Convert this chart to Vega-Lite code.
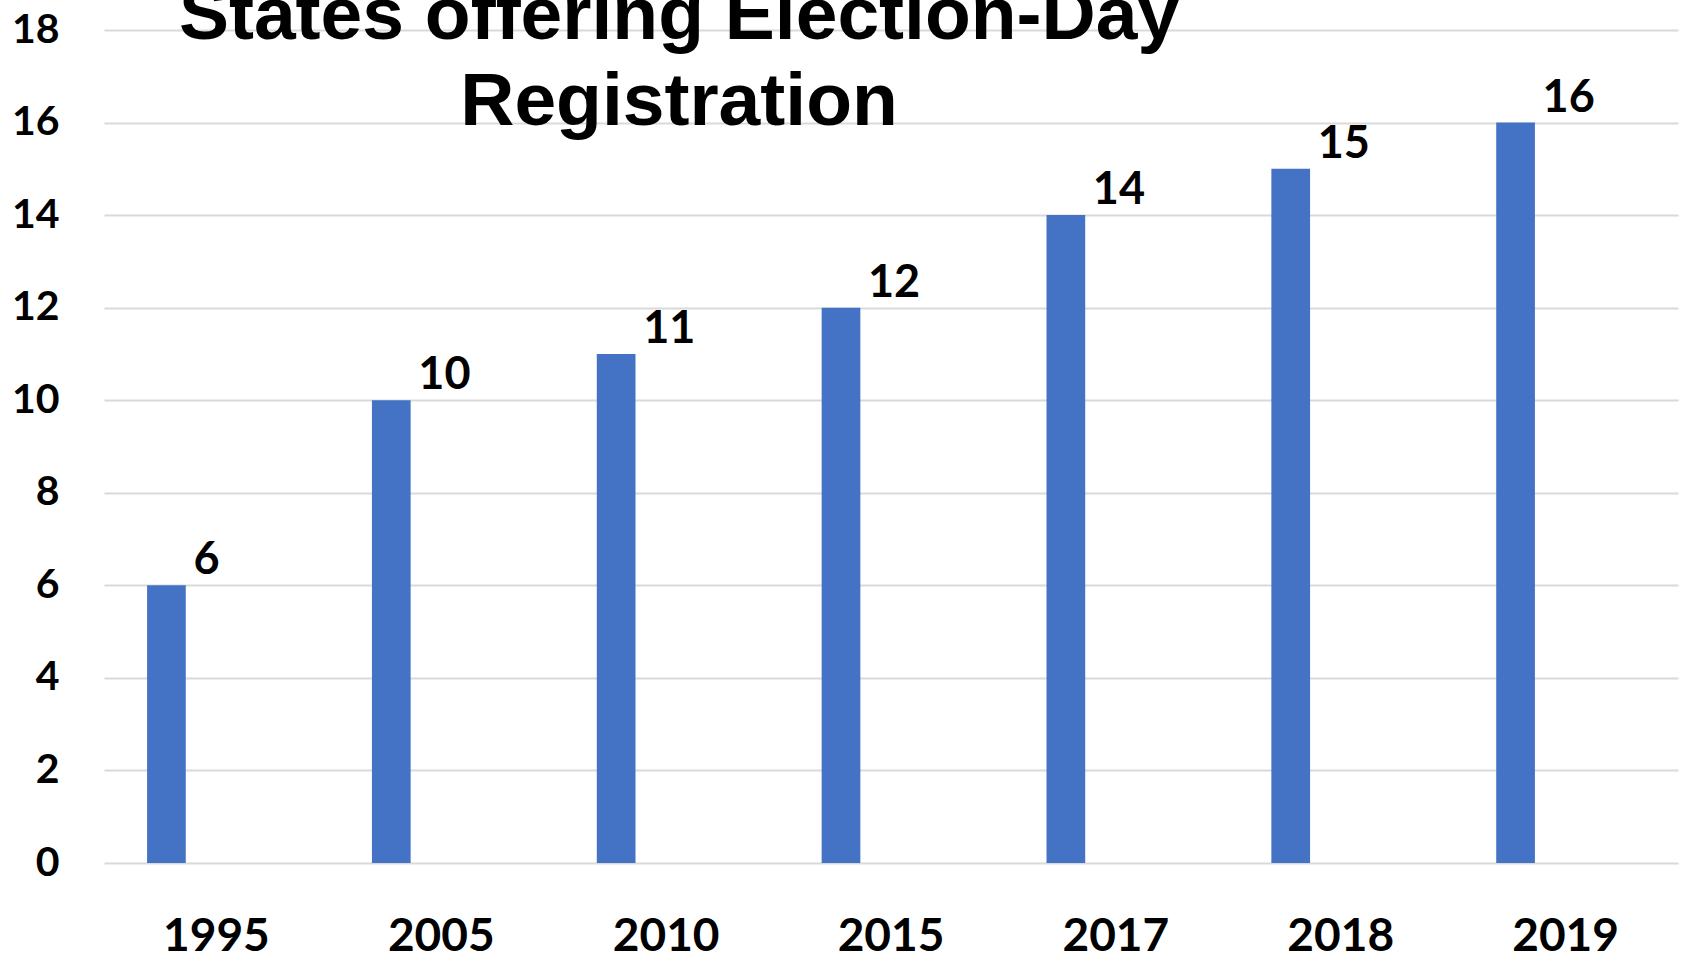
{
  "$schema": "https://vega.github.io/schema/vega-lite/v6.json",
  "autosize": {"type": "none"},
  "width": 1574,
  "height": 833,
  "padding": {"left": 104, "top": 30, "right": 6, "bottom": 93},
  "background": "white",
  "title": {
    "text": ["States offering Election-Day", "Registration"],
    "font": "Liberation Sans",
    "fontSize": 75,
    "fontWeight": "bold",
    "color": "#000000",
    "anchor": "middle",
    "frame": "group",
    "baseline": "alphabetic",
    "lineHeight": 86,
    "offset": 0,
    "dx": -212,
    "dy": 191
  },
  "data": {
    "values": [
      {"year": "1995", "states": 6},
      {"year": "2005", "states": 10},
      {"year": "2010", "states": 11},
      {"year": "2015", "states": 12},
      {"year": "2017", "states": 14},
      {"year": "2018", "states": 15},
      {"year": "2019", "states": 16}
    ]
  },
  "config": {
    "view": {"stroke": null},
    "axis": {"labelFont": "Lato", "labelFontWeight": "bold", "labelColor": "#000000"}
  },
  "encoding": {
    "x": {
      "field": "year",
      "type": "ordinal",
      "sort": null,
      "scale": {"paddingInner": 0, "paddingOuter": 0},
      "axis": {"title": null, "ticks": false, "domain": false, "labelAngle": 0, "labelFontSize": 46, "labelPadding": 51, "labelBaseline": "top"}
    },
    "y": {
      "field": "states",
      "type": "quantitative",
      "scale": {"domain": [0, 18], "nice": false},
      "axis": {"title": null, "ticks": false, "domain": false, "values": [0, 2, 4, 6, 8, 10, 12, 14, 16, 18], "labelFontSize": 41, "labelPadding": 45, "gridColor": "#d9d9d9", "gridWidth": 2.2}
    }
  },
  "layer": [
    {
      "mark": {"type": "bar", "width": 38.7, "xOffset": -50, "color": "#4472C4"}
    },
    {
      "mark": {"type": "text", "align": "left", "baseline": "alphabetic", "dx": -23, "dy": -11, "font": "Lato", "fontWeight": "bold", "fontSize": 45, "color": "#000000"},
      "encoding": {"text": {"field": "states", "type": "quantitative"}}
    }
  ]
}
